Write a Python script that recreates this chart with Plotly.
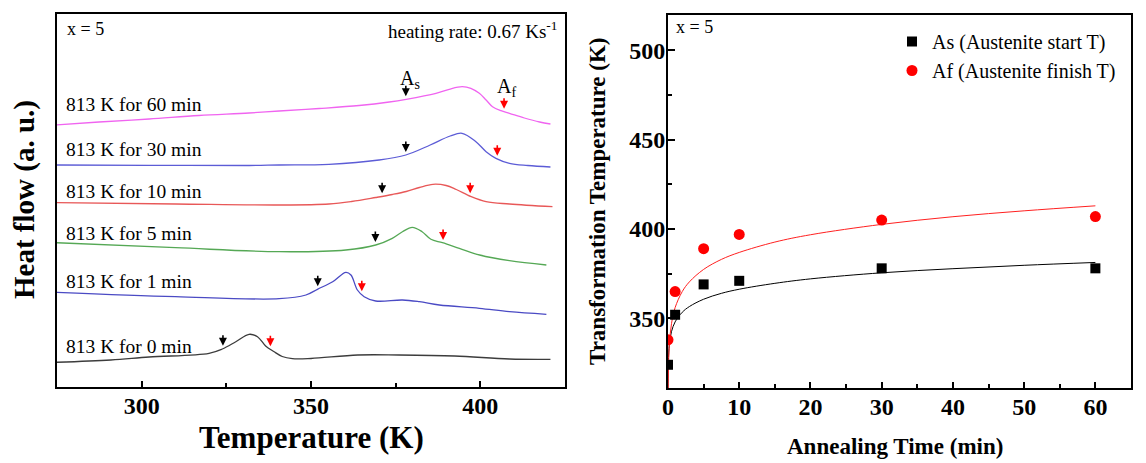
import numpy as np
import plotly.graph_objects as go

# ---------------- Left panel: DSC heating curves ----------------
curve_labels = ["813 K for 60 min", "813 K for 30 min", "813 K for 10 min",
                "813 K for 5 min", "813 K for 1 min", "813 K for 0 min"]
curve_colors = ["#f064f0", "#5c5cd6", "#e85858", "#55a855", "#4a4ac4", "#3c3c3c"]

T60 = [274.7, 287.4, 302.2, 316.9, 331.7, 340.6, 352.4, 364.2, 373.1, 378.1, 386.9, 390.8,
       394.6, 397.2, 399.7, 401.7, 403.6, 406.1, 408.6, 413.0, 417.5, 420.7]
H60 = [262, 265, 268, 271.5, 274, 276, 278.5, 281.5, 285, 287.7, 293.7, 297.7,
       300.3, 298.7, 293.7, 287, 280.3, 276.3, 273.7, 269, 265, 263]

T30 = [274.7, 302.2, 331.7, 340.6, 355.3, 370.1, 378.0, 385.2, 391.1, 394.6, 398.7, 401.7,
       404.6, 408.6, 414.0, 420.7]
H30 = [222, 221.7, 221.5, 222, 222.7, 227, 232, 242, 251, 253.7, 245.3, 235.3,
       228.7, 223.7, 221.5, 220]

T10 = [274.7, 310, 340.6, 355.3, 362.0, 369.1, 374.0, 378.1, 382.0, 386.0, 389.9, 392.9,
       397.3, 401.7, 408.6, 421.3]
H10 = [184.3, 183, 182, 183, 185.5, 189.5, 192.5, 195.5, 199.5, 202.7, 201.5, 197.5,
       190.3, 185.3, 183, 180.3]

T5 = [274.7, 310, 340.6, 360.3, 369.1, 374.0, 377.0, 379.9, 382.8, 385.4, 388.8, 393.8,
      399.8, 408.6, 419.5]
H5 = [144.3, 139.3, 135.3, 137, 142, 148.7, 155.3, 159.7, 155.3, 147.7, 144.3, 138.7,
      132, 126.3, 122]

T1 = [274.7, 310, 340.6, 348.5, 351.9, 356.4, 360.3, 361.8, 363.7, 365.7, 369.1, 377.0,
      382.0, 387.9, 399.7, 408.6, 419.5]
H1 = [94.7, 90.3, 88.3, 92, 97.7, 105.3, 114.7, 112, 97, 90.3, 86, 87,
      85.3, 82, 78.7, 75.3, 72.7]

T0 = [274.7, 290.9, 302.2, 319.9, 323.8, 327.8, 331.7, 334.2, 336.6, 339.0, 341.5, 344.5,
      350.0, 363.8, 375.9, 392.4, 408.6, 420.7]
H0 = [24.7, 27, 30, 33.7, 38, 45.3, 52.7, 50.3, 41, 35.5, 30.5, 28.3,
      28.5, 32, 32, 31, 28, 27.7]

curves_T = [T60, T30, T10, T5, T1, T0]
curves_H = [H60, H30, H10, H5, H1, H0]

# ---------------- Right panel: transformation temperatures ----------------
anneal_time = [0, 1, 5, 10, 30, 60]          # min
As_vals = [324, 352, 369, 371, 378, 378]      # K
Af_vals = [338, 365, 389, 397, 405, 407]      # K
# arrows in the left panel follow curve order (60, 30, 10, 5, 1, 0 min)
As_per_curve = As_vals[::-1]
Af_per_curve = Af_vals[::-1]

fit_t = [0.005, 0.01, 0.02, 0.05, 0.1, 0.2, 0.5, 1, 2, 3, 5, 7.5, 10, 15, 20, 30, 40, 50, 60]
fit_As = [309.3, 313.5, 318.9, 325.5, 330.6, 335.7, 342.7, 348, 353.4, 356.6, 360.7, 364.0,
          366.3, 369.6, 372.1, 375.5, 377.8, 379.7, 381.3]
fit_Af = [293.9, 301.4, 309.0, 319.4, 327.5, 335.9, 347.2, 356, 365.0, 370.4, 377.4, 383.0,
          386.9, 392.7, 396.8, 402.6, 406.9, 410.2, 413.0]

# page body has an 8 px margin: the figure is sized and placed to compensate
OFF = 8
W, H = 1146 - OFF, 463 - OFF
SERIF = "Liberation Serif"

def px_x(p):
    return (p - OFF) / W

def px_y(p):
    return 1 - (p - OFF) / H

fig = go.Figure()

for T, Hf, c in zip(curves_T, curves_H, curve_colors):
    fig.add_trace(go.Scatter(x=T, y=Hf, mode="lines", line=dict(color=c, width=1.3, shape="spline"),
                             showlegend=False, xaxis="x", yaxis="y", hoverinfo="skip"))

fig.add_trace(go.Scatter(x=fit_t, y=fit_As, mode="lines", line=dict(color="black", width=1, shape="spline"),
                         showlegend=False, xaxis="x2", yaxis="y2"))
fig.add_trace(go.Scatter(x=fit_t, y=fit_Af, mode="lines", line=dict(color="#ff2020", width=1, shape="spline"),
                         showlegend=False, xaxis="x2", yaxis="y2"))
fig.add_trace(go.Scatter(x=anneal_time, y=As_vals, mode="markers", name="As (Austenite start T)",
                         marker=dict(symbol="square", color="black", size=10),
                         xaxis="x2", yaxis="y2"))
fig.add_trace(go.Scatter(x=anneal_time, y=Af_vals, mode="markers", name="Af (Austenite finish T)",
                         marker=dict(symbol="circle", color="#ff0000", size=11),
                         xaxis="x2", yaxis="y2"))

annotations = []
# curve labels
label_y = [282, 237, 195.3, 153.7, 105.3, 40.3]
for lab, ly in zip(curve_labels, label_y):
    annotations.append(dict(x=277.0, y=ly, xref="x", yref="y", text=lab, showarrow=False,
                            xanchor="left", yanchor="middle",
                            font=dict(family=SERIF, size=19.5, color="black")))
# As / Af arrows on each curve
for T, Hf, a_s, a_f in zip(curves_T, curves_H, As_per_curve, Af_per_curve):
    for val, col in ((a_s, "black"), (a_f, "#ff0000")):
        yv = float(np.interp(val, T, Hf)) + 3
        annotations.append(dict(x=val, y=yv, xref="x", yref="y", text="", showarrow=True,
                                ax=0, ay=-12, arrowhead=2, arrowsize=1, arrowwidth=1.6,
                                arrowcolor=col))
annotations += [
    dict(x=379.1, y=307, xref="x", yref="y", text="A<sub>s</sub>", showarrow=False,
         font=dict(family=SERIF, size=20, color="black")),
    dict(x=407.8, y=299, xref="x", yref="y", text="A<sub>f</sub>", showarrow=False,
         font=dict(family=SERIF, size=20, color="black")),
    dict(x=px_x(65), y=px_y(29), xref="paper", yref="paper", text="x = 5", showarrow=False,
         xanchor="left", yanchor="middle", font=dict(family=SERIF, size=18, color="black")),
    dict(x=px_x(559), y=px_y(30), xref="paper", yref="paper", text="heating rate: 0.67 Ks<sup>-1</sup>",
         showarrow=False, xanchor="right", yanchor="middle",
         font=dict(family=SERIF, size=19, color="black")),
    dict(x=px_x(674), y=px_y(27), xref="paper", yref="paper", text="x = 5", showarrow=False,
         xanchor="left", yanchor="middle", font=dict(family=SERIF, size=18, color="black")),
    # axis titles
    dict(x=px_x(24), y=px_y(200), xref="paper", yref="paper", text="Heat flow (a. u.)",
         textangle=-90, showarrow=False, xanchor="center", yanchor="middle",
         font=dict(family=SERIF, size=29, color="black", weight="bold")),
    dict(x=px_x(311), y=px_y(437), xref="paper", yref="paper", text="Temperature (K)",
         showarrow=False, xanchor="center", yanchor="middle",
         font=dict(family=SERIF, size=31, color="black", weight="bold")),
    dict(x=px_x(597), y=px_y(201), xref="paper", yref="paper", text="Transformation Temperature (K)",
         textangle=-90, showarrow=False, xanchor="center", yanchor="middle",
         font=dict(family=SERIF, size=23, color="black", weight="bold")),
    dict(x=px_x(895), y=px_y(446), xref="paper", yref="paper", text="Annealing Time (min)",
         showarrow=False, xanchor="center", yanchor="middle",
         font=dict(family=SERIF, size=23, color="black", weight="bold")),
]

tickfont = dict(family=SERIF, size=24, color="black", weight="bold")
frame = dict(showline=True, mirror=True, linecolor="black", linewidth=2,
             showgrid=False, zeroline=False, automargin=False)

fig.update_layout(
    width=W, height=H,
    margin=dict(l=0, r=0, t=0, b=0),
    paper_bgcolor="white", plot_bgcolor="white",
    xaxis=dict(domain=[px_x(57), px_x(565)], range=[275, 425], anchor="y",
               tickvals=[300, 350, 400], ticks="inside", ticklen=6, tickwidth=1.5, tickcolor="black",
               minor=dict(tickvals=[325, 375], ticks="inside", ticklen=4, tickwidth=1.5, tickcolor="black"),
               tickfont=tickfont, ticklabelstandoff=-4, **frame),
    yaxis=dict(domain=[px_y(387), px_y(14)], range=[0, 373], anchor="x",
               showticklabels=False, ticks="", **frame),
    xaxis2=dict(domain=[px_x(668), px_x(1131)], range=[0, 65], anchor="y2",
                tickvals=[0, 10, 20, 30, 40, 50, 60], ticks="inside", ticklen=6, tickwidth=1.5,
                tickcolor="black",
                minor=dict(tickvals=[5, 15, 25, 35, 45, 55], ticks="inside", ticklen=4, tickwidth=1.5,
                           tickcolor="black"),
                tickfont=tickfont, ticklabelstandoff=-4, **frame),
    yaxis2=dict(domain=[px_y(388), px_y(14.7)], range=[311, 520], anchor="x2",
                tickvals=[350, 400, 450, 500], ticks="inside", ticklen=7, tickwidth=1.5,
                tickcolor="black",
                minor=dict(tickvals=[325, 375, 425, 475], ticks="inside", ticklen=4, tickwidth=1.5,
                           tickcolor="black"),
                tickfont=tickfont, ticklabelstandoff=-4, **frame),
    legend=dict(x=px_x(892), y=px_y(22), xanchor="left", yanchor="top",
                bgcolor="rgba(0,0,0,0)", font=dict(family=SERIF, size=20, color="black"),
                tracegroupgap=0),
    annotations=annotations,
)

fig.write_html("out.html")
